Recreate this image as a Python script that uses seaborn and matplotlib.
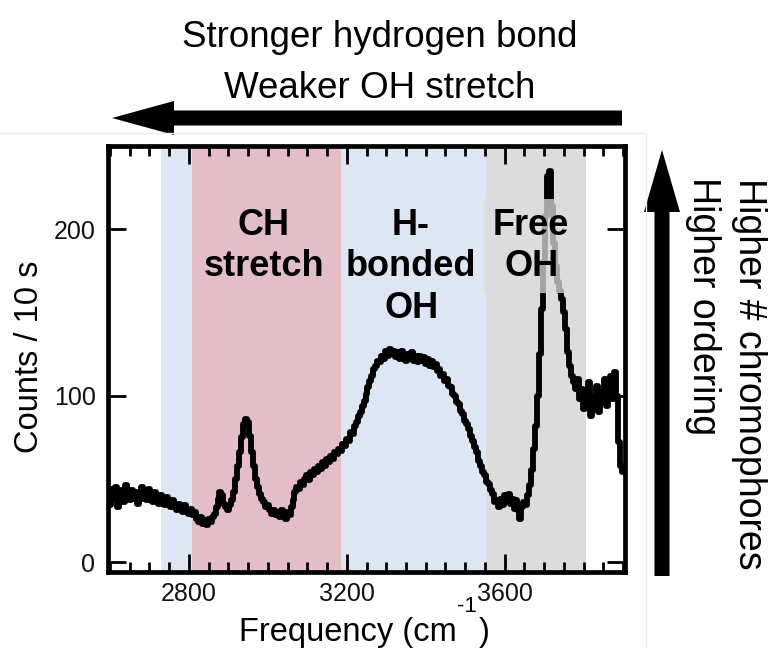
import matplotlib
matplotlib.use("Agg")
import matplotlib.pyplot as plt
from matplotlib.patches import FancyArrow
from matplotlib.lines import Line2D
from matplotlib.ticker import MultipleLocator
import pandas as pd
import seaborn as sns

# Sum-frequency spectrum, counts per 10 s, sampled every 5 cm^-1 (2600-3900)
frequency = list(range(2600, 3905, 5))
counts = [
    34, 44, 38, 45, 33, 40, 43, 36, 46, 40, 37, 43, 38, 42, 35, 41, 45, 38, 42, 37,   # 2600
    44, 39, 36, 42, 39, 35, 40, 37, 34, 39, 36, 33, 37, 34, 31, 35, 32, 30, 34, 31,   # 2700
    29, 32, 28, 30, 26, 24, 27, 23, 25, 22, 26, 24, 27, 29, 33, 38, 42, 40, 35, 33,   # 2800
    31, 34, 37, 42, 50, 58, 66, 75, 83, 86, 84, 76, 66, 58, 50, 45, 41, 38, 36, 33,   # 2900
    34, 31, 29, 31, 28, 30, 27, 31, 29, 26, 30, 28, 33, 37, 42, 45, 44, 48, 46, 50,   # 3000
    52, 49, 54, 52, 56, 54, 58, 56, 60, 58, 62, 60, 64, 62, 66, 65, 68, 67, 71, 70,   # 3100
    74, 73, 78, 77, 82, 84, 88, 90, 94, 97, 101, 105, 109, 112, 116, 118, 121, 120, 124, 122,  # 3200
    127, 124, 128, 125, 127, 123, 126, 122, 127, 124, 121, 125, 122, 126, 121, 124, 120, 124, 121, 123,  # 3300
    119, 122, 118, 121, 117, 119, 115, 116, 112, 113, 109, 110, 106, 105, 101, 100, 96, 95, 91, 89,  # 3400
    85, 83, 80, 76, 73, 69, 66, 61, 58, 54, 52, 48, 47, 43, 41, 36, 37, 33, 38, 34,   # 3500
    40, 36, 41, 35, 38, 32, 37, 31, 26, 33, 36, 34, 40, 46, 55, 68, 82, 100, 125, 152,  # 3600
    180, 208, 232, 235, 214, 192, 178, 168, 163, 158, 150, 140, 126, 118, 112, 108, 104, 110, 98, 104,  # 3700
    92, 103, 96, 108, 88, 100, 92, 106, 90, 102, 96, 110, 94, 104, 112, 98, 114, 100, 72, 58,  # 3800
    54,                                                                                 # 3900
]

# Spectral regions (boundaries and fill colours) and their labels
region_edges = [2730, 2808, 3185, 3552, 3805]
region_colors = ["#dce7f3", "#e3bec8", "#dce7f3", "#dcdcdc"]
region_labels = ["CH\nstretch", "H-\nbonded\nOH", "Free\nOH"]
label_x = [2990, 3363, 3667]
label_y = [213, 213, 213]

x_ticks = [2800, 3200, 3600]
y_ticks = [0, 100, 200]

df = pd.DataFrame({"frequency": frequency, "counts": counts})

sns.set_style("ticks")
plt.rcParams["font.family"] = ["Liberation Sans", "DejaVu Sans"]
for key in ["text.color", "axes.labelcolor", "xtick.color", "ytick.color"]:
    plt.rcParams[key] = "black"

W, H = 772, 648
fig = plt.figure(figsize=(W / 100, H / 100), dpi=100)
fig.patch.set_facecolor("white")

ax = fig.add_axes([108 / W, 1 - 572 / H, (625 - 108) / W, (572 - 146) / H])

for x0, x1, c in zip(region_edges[:-1], region_edges[1:], region_colors):
    ax.axvspan(x0, x1, color=c, lw=0, zorder=0)

sns.lineplot(data=df, x="frequency", y="counts", ax=ax, color="black",
             lw=4.2, drawstyle="steps-mid", zorder=3, legend=False)

ax.set_xlim(2595, 3905)
ax.set_ylim(-6, 250)
ax.set_xticks(x_ticks)
ax.set_yticks(y_ticks)
ax.xaxis.set_minor_locator(MultipleLocator(50))
ax.tick_params(which="both", direction="in", top=True, right=True,
               labelsize=18, pad=9, color="black", labelcolor="#111111")
ax.tick_params(axis="x", which="major", pad=7.5)
ax.tick_params(which="major", length=13, width=2)
ax.tick_params(which="minor", length=7, width=2)
for s in ax.spines.values():
    s.set_linewidth(3.4)
    s.set_color("black")

ax.set_xlabel("")
ax.set_ylabel("Counts / 10 s", fontsize=23.5, va="center")
ax.yaxis.set_label_coords((30 - 108) / 517, (572 - 357) / 426)

for i, (txt, xx, yy) in enumerate(zip(region_labels, label_x, label_y)):
    kw = {}
    if i == 2:
        kw["bbox"] = dict(boxstyle="square,pad=0.25", fc="#dcdcdc", ec="none", alpha=0.75)
    ax.text(xx, yy, txt, ha="center", va="top", fontsize=26, fontweight="bold",
            linespacing=1.25, zorder=5, color="black", **kw)

# Overlay in pixel coordinates for the annotation arrows and captions
ov = fig.add_axes([0, 0, 1, 1], zorder=-1)
ov.set_xlim(0, W)
ov.set_ylim(H, 0)
ov.axis("off")
ov.patch.set_alpha(0)

ov.add_line(Line2D([0, 646], [133, 133], color="#ebebeb", lw=1))
ov.add_line(Line2D([646, 646], [133, H], color="#ebebeb", lw=1))

ov.add_patch(FancyArrow(622, 118, -(622 - 112), 0, width=15, head_width=34,
                        head_length=62, length_includes_head=True,
                        color="black", lw=0))
ov.add_patch(FancyArrow(662, 576, 0, -(576 - 150), width=15, head_width=36,
                        head_length=62, length_includes_head=True,
                        color="black", lw=0))

fig.text(380 / W, 1 - 47 / H, "Stronger hydrogen bond", ha="center",
         va="baseline", fontsize=26.5, color="black")
fig.text(380 / W, 1 - 98 / H, "Weaker OH stretch", ha="center",
         va="baseline", fontsize=26.5, color="black")
fig.text(749 / W, 1 - 178 / H, "Higher # chromophores", rotation=-90,
         ha="center", va="top", fontsize=27, color="black")
fig.text(703 / W, 1 - 177 / H, "Higher ordering", rotation=-90,
         ha="center", va="top", fontsize=27, color="black")

# x-axis title with a raised "-1" superscript, laid out piece by piece
renderer = fig.canvas.get_renderer()
base_y = 641
t_main = ov.text(239, base_y, "Frequency (cm", fontsize=23.5, ha="left", va="baseline")
x_end = t_main.get_window_extent(renderer).x1
t_sup = ov.text(x_end + 0.5, base_y - 29, "-1", fontsize=16, ha="left", va="baseline")
x_end = t_sup.get_window_extent(renderer).x1
ov.text(x_end + 2, base_y, ")", fontsize=23.5, ha="left", va="baseline")

fig.savefig("out.png", dpi=100, facecolor="white")
